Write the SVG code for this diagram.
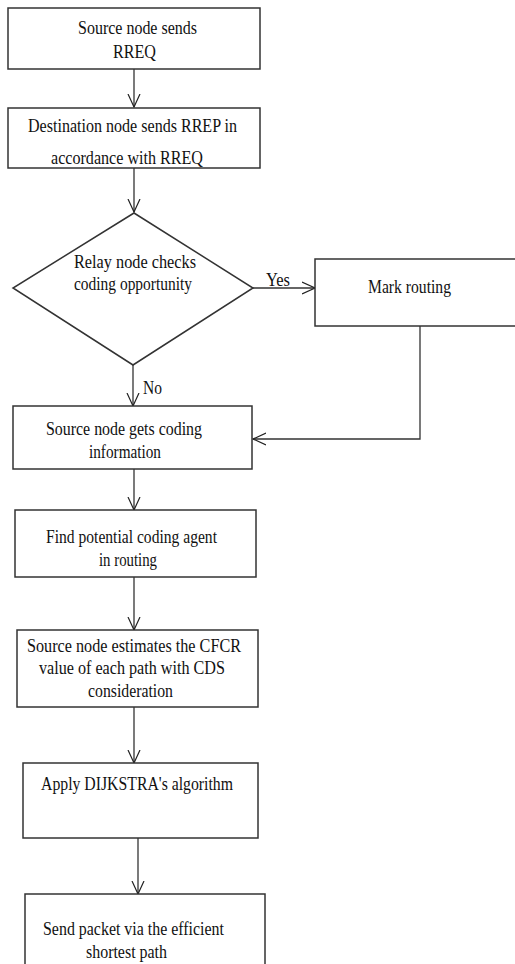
<svg xmlns="http://www.w3.org/2000/svg" width="515" height="964" viewBox="0 0 515 964">
<defs>
<marker id="v" viewBox="0 0 14 14" refX="13" refY="7" markerWidth="14" markerHeight="14" markerUnits="userSpaceOnUse" orient="auto">
<path d="M0,1 L13,7 L0,13" fill="none" stroke="#222" stroke-width="1.2"/>
</marker>
<style>
.b{fill:#fff;stroke:#333;stroke-width:1.5}
.c{fill:none;stroke:#333;stroke-width:1.3}
text{font-family:"Liberation Serif","Times New Roman",serif;font-size:19px;fill:#111}
</style>
</defs>
<rect width="515" height="964" fill="#fff"/>
<g id="connectors">
<line class="c" x1="134" y1="69" x2="134" y2="107" marker-end="url(#v)"/>
<line class="c" x1="134" y1="168" x2="134" y2="212" marker-end="url(#v)"/>
<line class="c" x1="253" y1="288" x2="315" y2="288" marker-end="url(#v)"/>
<text x="266" y="286" textLength="24" lengthAdjust="spacingAndGlyphs">Yes</text>
<line class="c" x1="133" y1="365" x2="133" y2="406" marker-end="url(#v)"/>
<text x="143" y="394" textLength="19" lengthAdjust="spacingAndGlyphs">No</text>
<polyline class="c" points="420,326 420,439 253,439" marker-end="url(#v)"/>
<line class="c" x1="134" y1="469" x2="134" y2="510" marker-end="url(#v)"/>
<line class="c" x1="134" y1="577" x2="134" y2="630" marker-end="url(#v)"/>
<line class="c" x1="134" y1="707" x2="134" y2="763" marker-end="url(#v)"/>
<line class="c" x1="138" y1="838" x2="138" y2="894" marker-end="url(#v)"/>
</g>
<g id="n1">
<rect class="b" x="8" y="8" width="252" height="61"/>
<text x="78" y="34" textLength="119" lengthAdjust="spacingAndGlyphs">Source node sends</text>
<text x="113" y="58" textLength="43" lengthAdjust="spacingAndGlyphs">RREQ</text>
</g>
<g id="n2">
<rect class="b" x="8" y="108" width="252" height="60"/>
<text x="28" y="132" textLength="209" lengthAdjust="spacingAndGlyphs">Destination node sends RREP in</text>
<text x="51" y="164" textLength="152" lengthAdjust="spacingAndGlyphs">accordance with RREQ</text>
</g>
<g id="n3">
<polygon class="b" points="134,213 253,288 133,365 13,288"/>
<text x="74" y="268" textLength="122" lengthAdjust="spacingAndGlyphs">Relay node checks</text>
<text x="74" y="290" textLength="118" lengthAdjust="spacingAndGlyphs">coding opportunity</text>
</g>
<g id="n4">
<rect class="b" x="315" y="259" width="210" height="67"/>
<text x="368" y="293" textLength="83" lengthAdjust="spacingAndGlyphs">Mark routing</text>
</g>
<g id="n5">
<rect class="b" x="13" y="406" width="239" height="63"/>
<text x="46" y="435" textLength="156" lengthAdjust="spacingAndGlyphs">Source node gets coding</text>
<text x="89" y="458" textLength="72" lengthAdjust="spacingAndGlyphs">information</text>
</g>
<g id="n6">
<rect class="b" x="15" y="510" width="241" height="67"/>
<text x="46" y="543" textLength="171" lengthAdjust="spacingAndGlyphs">Find potential coding agent</text>
<text x="99" y="566" textLength="58" lengthAdjust="spacingAndGlyphs">in routing</text>
</g>
<g id="n7">
<rect class="b" x="17" y="630" width="241" height="77"/>
<text x="27" y="652" textLength="214" lengthAdjust="spacingAndGlyphs">Source node estimates the CFCR</text>
<text x="39" y="674" textLength="186" lengthAdjust="spacingAndGlyphs">value of each path with CDS</text>
<text x="88" y="697" textLength="85" lengthAdjust="spacingAndGlyphs">consideration</text>
</g>
<g id="n8">
<rect class="b" x="23" y="763" width="235" height="75"/>
<text x="41" y="790" textLength="192" lengthAdjust="spacingAndGlyphs">Apply DIJKSTRA's algorithm</text>
</g>
<g id="n9">
<rect class="b" x="25" y="894" width="240" height="80"/>
<text x="43" y="935" textLength="181" lengthAdjust="spacingAndGlyphs">Send packet via the efficient</text>
<text x="86" y="958" textLength="81" lengthAdjust="spacingAndGlyphs">shortest path</text>
</g>
</svg>
